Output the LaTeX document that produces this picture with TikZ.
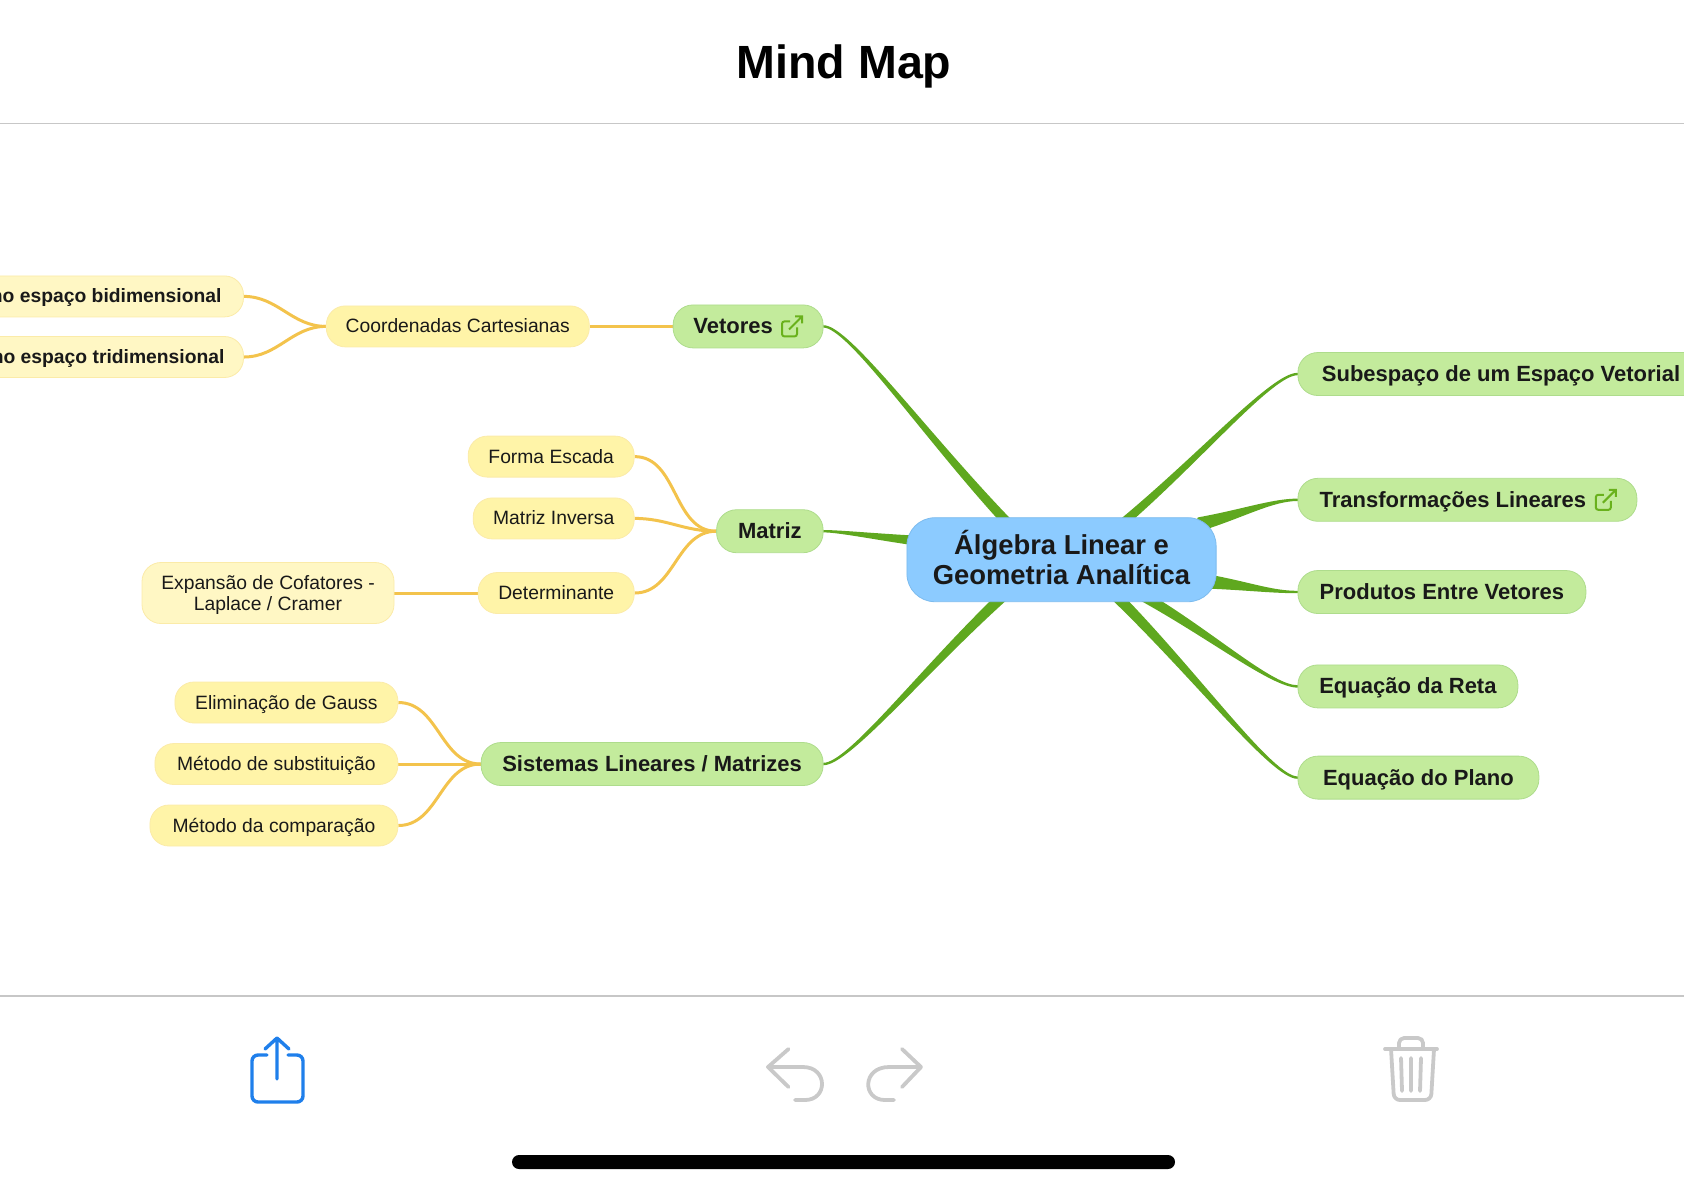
\documentclass[tikz,border=0pt]{standalone}
\usepackage{fontspec}
\setmainfont{Liberation Sans}
\usetikzlibrary{positioning,calc,backgrounds}
\definecolor{limbgreen}{HTML}{5FA81F}
\definecolor{twigyellow}{HTML}{F3C34C}
\definecolor{sharpblue}{HTML}{1F7FEB}
\definecolor{iconlight}{HTML}{C9C9C9}
\definecolor{rootfill}{HTML}{8CCBFF}
\definecolor{rootline}{HTML}{7CBBEE}
\definecolor{topicfill}{HTML}{C3EB9C}
\definecolor{topicline}{HTML}{AEDC8C}
\definecolor{subfill}{HTML}{FFF4A8}
\definecolor{subline}{HTML}{FBEBA8}
\definecolor{palefill}{HTML}{FFF7C4}
\newcommand{\limb}[4]{%
  \draw[limb] (#1) .. controls ($(#1)+(#3,0)$) and ($(#1)!.55!(#2)+.5*(#4)$) .. ($(#2)+(#4)$)
    -- ($(#2)-(#4)$) .. controls ($(#1)!.55!(#2)-.5*(#4)$) and ($(#1)+(#3,0)$) .. (#1) -- cycle;}
\begin{document}
\begin{tikzpicture}[
  x=.5pt, y=-.5pt,
  rootnode/.style={draw=rootline, fill=rootfill, rounded corners=14pt, align=center, text=black!90, text depth=2.3pt,
    minimum width=154.6pt, minimum height=42pt, inner sep=0pt, font=\fontsize{13.7}{14.8}\selectfont\bfseries},
  topic/.style={draw=topicline, fill=topicfill, rounded corners=10pt, minimum height=21.5pt,
    inner xsep=0pt, inner ysep=0pt, text=black!90, text height=7.5pt, text depth=0pt, font=\fontsize{11}{12}\selectfont\bfseries},
  sub/.style={draw=subline, fill=subfill, rounded corners=9.5pt, minimum height=20.5pt,
    inner xsep=0pt, inner ysep=0pt, text=black!90, text height=6.5pt, text depth=0pt, font=\fontsize{9.65}{10.6}\selectfont},
  subpale/.style={sub, fill=palefill},
  limb/.style={draw=limbgreen, fill=limbgreen, line width=1.2pt, line join=round},
  twig/.style={draw=twigyellow, line width=1.5pt},
  rule/.style={draw=black!22, line width=.6pt},
  icongrey/.style={draw=iconlight, line width=1.9pt, line cap=round, line join=round},
  iconblue/.style={draw=sharpblue, line width=1.7pt, line cap=round, line join=round},
  extlink/.pic={
    \draw[limbgreen!90!lime, line width=1pt, rounded corners=1.2pt] (-2,-5) -- (-10,-5) -- (-10,10) -- (5,10) -- (5,1);
    \draw[limbgreen!90!lime, line width=1pt] (-3,3) -- (10,-10) (3,-10) -- (10,-10) -- (10,-3);
  }
]
\useasboundingbox (0,0) rectangle (1684,1191);
\clip (0,0) rectangle (1684,1191);

\node[font=\fontsize{23.3}{26}\selectfont\bfseries] (title) at (844,66) {Mind Map};
\draw[rule] (0,123.5) -- (1684,123.5);
\draw[rule] (0,996) -- (1684,996);

\node[rootnode] (root) at (1061.5,559.7) {Álgebra Linear e\\Geometria Analítica};

\node[topic, minimum width=75pt, above left=84.5pt and 41.5pt of root.north west] (vet) {Vetores\hspace{15pt}\mbox{}};
\node[topic, minimum width=53.25pt, below left=80.5pt and 0pt of vet.south east] (matriz) {Matriz};
\node[topic, minimum width=171pt, below left=94.5pt and 0pt of matriz.south east] (sist) {Sistemas Lineares / Matrizes};

\node[topic, inner xsep=12pt, above right=60.7pt and 40.5pt of root.north east] (subesp) {Subespaço de um Espaço Vetorial};
\node[topic, minimum width=169.5pt, below right=41pt and 0pt of subesp.south west] (transf) {Transformações Lineares\hspace{14.5pt}\mbox{}};
\node[topic, minimum width=144pt, below right=24.2pt and 0pt of transf.south west] (prod) {Produtos Entre Vetores};
\node[topic, minimum width=110pt, below right=25.3pt and 0pt of prod.south west] (reta) {Equação da Reta};
\node[topic, minimum width=120.5pt, below right=23.7pt and 0pt of reta.south west] (plano) {Equação do Plano};

\node[sub, minimum width=131.5pt, left=41.5pt of vet] (coord) {Coordenadas Cartesianas};
\node[subpale, inner xsep=11pt, left=41pt of coord, yshift=15pt, font=\fontsize{9.65}{10.6}\selectfont\bfseries] (bidim) {no espaço bidimensional};
\node[subpale, inner xsep=9.5pt, left=41pt of coord, yshift=-15.3pt, font=\fontsize{9.65}{10.6}\selectfont\bfseries] (tridim) {no espaço tridimensional};

\node[sub, minimum width=83pt, left=40.8pt of matriz, yshift=37.3pt] (escada) {Forma Escada};
\node[sub, minimum width=80.5pt, left=40.8pt of matriz, yshift=6.4pt] (inversa) {Matriz Inversa};
\node[sub, minimum width=78pt, left=40.8pt of matriz, yshift=-30.9pt] (deter) {Determinante};
\node[subpale, minimum width=126pt, minimum height=30.5pt, align=center, text height=19.6pt, text depth=2pt, left=41.7pt of deter] (expan) {Expansão de Cofatores -\\Laplace / Cramer};

\node[sub, minimum width=111.5pt, left=41.2pt of sist, yshift=30.75pt] (gauss) {Eliminação de Gauss};
\node[sub, minimum width=121.5pt, left=41.2pt of sist] (substi) {Método de substituição};
\node[sub, minimum width=124pt, left=41.2pt of sist, yshift=-30.75pt] (compara) {Método da comparação};

\pic at ($(vet.east)+(-31.5,0)$) {extlink};
\pic at ($(transf.east)+(-31.5,0)$) {extlink};

\coordinate (rvet) at (1006,521);
\coordinate (rmat) at (910,540);
\coordinate (rsis) at (1000,599);
\coordinate (rsub) at (1125,521);
\coordinate (rtra) at (1200,524);
\coordinate (rpro) at (1212,582);
\coordinate (rret) at (1148,599);
\coordinate (rpla) at (1119,599);

\begin{scope}[on background layer]
\limb{vet.east}{rvet}{25}{5,0}
\limb{matriz.east}{rmat}{15}{0,3.5}
\limb{sist.east}{rsis}{25}{6,0}
\limb{subesp.west}{rsub}{-25}{5,0}
\limb{transf.west}{rtra}{-25}{1.5,5.5}
\limb{prod.west}{rpro}{-25}{-1,5.5}
\limb{reta.west}{rret}{-25}{8,0}
\limb{plano.west}{rpla}{-25}{6,0}
\draw[twig] (coord.east) -- (vet.west);
\draw[twig] (bidim.east) to[out=0,in=180] (coord.west);
\draw[twig] (tridim.east) to[out=0,in=180] (coord.west);
\draw[twig] (escada.east) to[out=0,in=180] (matriz.west);
\draw[twig] (inversa.east) to[out=0,in=180] (matriz.west);
\draw[twig] (deter.east) to[out=0,in=180] (matriz.west);
\draw[twig] (expan.east) -- (deter.west);
\draw[twig] (gauss.east) to[out=0,in=180] (sist.west);
\draw[twig] (substi.east) -- (sist.west);
\draw[twig] (compara.east) to[out=0,in=180] (sist.west);
\end{scope}

\draw[iconblue, rounded corners=3pt] (267,1055) -- (252,1055) -- (252,1102) -- (303,1102) -- (303,1055) -- (288,1055);
\draw[iconblue] (277,1079) -- (277,1038) (265,1049) -- (277,1038) -- (289,1049);

\draw[icongrey] (788.5,1049) -- (768,1067) -- (788.5,1087);
\draw[icongrey] (768,1067) -- (803,1067) .. controls (828,1067) and (828,1100) .. (805,1100) -- (795,1100);
\draw[icongrey] (902,1049) -- (921,1067) -- (902,1087);
\draw[icongrey] (921,1067) -- (889,1067) .. controls (862,1067) and (862,1100) .. (885,1100) -- (894,1100);

\draw[icongrey] (1385,1049) -- (1437,1049);
\draw[icongrey, rounded corners=2.5pt] (1399,1049) -- (1399,1038) -- (1423,1038) -- (1423,1049);
\draw[icongrey, rounded corners=3pt] (1391,1049) -- (1394,1100) -- (1431,1100) -- (1434,1049);
\draw[icongrey] (1401,1058) -- (1402,1091) (1411,1058) -- (1411,1091) (1421,1058) -- (1420,1091);

\node[fill=black, rounded corners=3.5pt, minimum width=331.5pt, minimum height=7pt, inner sep=0pt] (homebar) at (843.5,1162) {};
\end{tikzpicture}
\end{document}
